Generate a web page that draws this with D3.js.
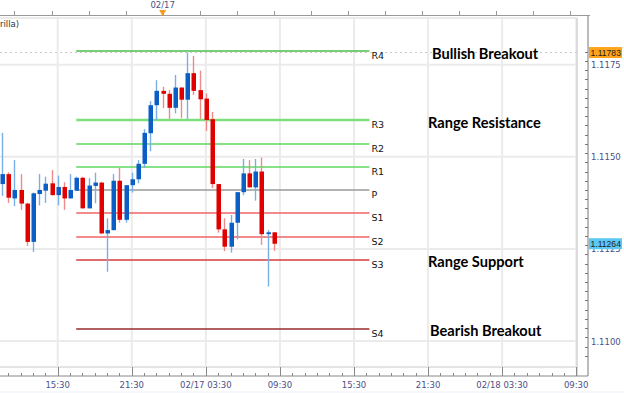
<!DOCTYPE html>
<html>
<head>
<meta charset="utf-8">
<script src="https://cdn.jsdelivr.net/npm/d3@7"></script>
<style>
  body { margin: 0; background: #fff; }
  svg { display: block; font-family: Verdana, "DejaVu Sans", sans-serif; }
</style>
</head>
<body>
<div id="chart"></div>
<script>
// EUR/USD 30 minute candles, 02/16 11:00 onwards
const firstCandle = new Date(2016, 1, 16, 11, 0);
const candleOpen = [1.11426, 1.11453, 1.11387, 1.11410, 1.11373, 1.11269, 1.11399, 1.11408, 1.11428,
  1.11396, 1.11418, 1.11387, 1.11408, 1.11443, 1.11360, 1.11421, 1.11430, 1.11292, 1.11301, 1.11435,
  1.11329, 1.11423, 1.11439, 1.11481, 1.11564, 1.11640, 1.11679, 1.11671, 1.11633, 1.11688, 1.11655,
  1.11727, 1.11681, 1.11658, 1.11602, 1.11426, 1.11303, 1.11256, 1.11321, 1.11404, 1.11455, 1.11417,
  1.11460, 1.11290, 1.11295];
const candleHigh = [1.11565, 1.11458, 1.11491, 1.11453, 1.11375, 1.11403, 1.11453, 1.11446, 1.11464,
  1.11449, 1.11431, 1.11453, 1.11446, 1.11446, 1.11442, 1.11457, 1.11432, 1.11333, 1.11453, 1.11470,
  1.11423, 1.11457, 1.11491, 1.11575, 1.11651, 1.11708, 1.11690, 1.11681, 1.11722, 1.11688, 1.11783,
  1.11774, 1.11734, 1.11672, 1.11622, 1.11426, 1.11333, 1.11342, 1.11404, 1.11494, 1.11491, 1.11494,
  1.11498, 1.11301, 1.11295];
const candleLow = [1.11394, 1.11375, 1.11366, 1.11356, 1.11258, 1.11242, 1.11368, 1.11375, 1.11395,
  1.11368, 1.11356, 1.11387, 1.11407, 1.11360, 1.11360, 1.11374, 1.11290, 1.11188, 1.11300, 1.11321,
  1.11321, 1.11403, 1.11428, 1.11470, 1.11515, 1.11600, 1.11632, 1.11603, 1.11618, 1.11605, 1.11603,
  1.11668, 1.11603, 1.11570, 1.11415, 1.11294, 1.11244, 1.11240, 1.11276, 1.11396, 1.11417, 1.11381,
  1.11261, 1.11148, 1.11245];
const candleClose = [1.11453, 1.11389, 1.11410, 1.11373, 1.11269, 1.11401, 1.11410, 1.11427, 1.11396,
  1.11418, 1.11387, 1.11410, 1.11443, 1.11360, 1.11422, 1.11430, 1.11292, 1.11301, 1.11435, 1.11329,
  1.11423, 1.11439, 1.11481, 1.11565, 1.11640, 1.11679, 1.11671, 1.11633, 1.11688, 1.11655, 1.11727,
  1.11679, 1.11656, 1.11600, 1.11426, 1.11303, 1.11256, 1.11321, 1.11404, 1.11455, 1.11417, 1.11460,
  1.11290, 1.11295, 1.11264];

// pivot levels
const levelNames = ["R4", "R3", "R2", "R1", "P", "S1", "S2", "S3", "S4"];
const levelValues = [1.11787, 1.11599, 1.11535, 1.11472, 1.11409, 1.11347, 1.11283, 1.11221, 1.11033];
const levelStart = new Date(2016, 1, 16, 17, 0);
const levelEnd = new Date(2016, 1, 17, 16, 45);

// notes next to the levels
const noteTexts = ["Bullish Breakout", "Range Resistance", "Range Support", "Bearish Breakout"];
const noteLevels = ["R4", "R3", "S3", "S4"];

// price tags on the axis
const tagValues = [1.11783, 1.11264];

const yTickValues = [1.1100, 1.1125, 1.1150, 1.1175];

const W = 624, H = 393;
const plotRight = 577, axisX = 588, plotTop = 18, plotBottom = 367, axisY = 376;

const svg = d3.select("#chart").append("svg")
    .attr("width", W)
    .attr("height", H);

const x = d3.scaleTime()
    .domain([new Date(2016, 1, 16, 15, 30), new Date(2016, 1, 18, 9, 30)])
    .range([57.7, 576.2]);

const y = d3.scaleLinear()
    .domain([1.1100, 1.1175])
    .range([341, 64.7]);

const candles = candleOpen.map((o, i) => ({
    t: d3.timeMinute.offset(firstCandle, 30 * i),
    o: o, h: candleHigh[i], l: candleLow[i], c: candleClose[i]
}));

// major time ticks at 03:30, 09:30, 15:30, 21:30
const majorTicks = d3.timeHour.range(new Date(2016, 1, 16, 15, 0), new Date(2016, 1, 18, 10, 0))
    .filter(d => d.getHours() % 6 === 3)
    .map(d => d3.timeMinute.offset(d, 30));

// grid
svg.append("g").selectAll("line")
    .data(majorTicks)
    .join("line")
    .attr("x1", d => x(d)).attr("x2", d => x(d))
    .attr("y1", plotTop).attr("y2", plotBottom)
    .attr("stroke", "#ebebeb").attr("stroke-width", 2);

svg.append("g").selectAll("line")
    .data(yTickValues)
    .join("line")
    .attr("x1", 0).attr("x2", plotRight)
    .attr("y1", d => y(d)).attr("y2", d => y(d))
    .attr("stroke", "#ebebeb").attr("stroke-width", 2);

// frame
svg.append("line").attr("x1", 0).attr("x2", plotRight).attr("y1", plotTop).attr("y2", plotTop)
    .attr("stroke", "#e4e4e4").attr("stroke-width", 1.5);
svg.append("line").attr("x1", plotRight).attr("x2", plotRight).attr("y1", plotTop).attr("y2", axisY)
    .attr("stroke", "#dcdcdc").attr("stroke-width", 2);
svg.append("line").attr("x1", 0).attr("x2", plotRight).attr("y1", plotBottom).attr("y2", plotBottom)
    .attr("stroke", "#e4e4e4").attr("stroke-width", 2);

// dotted line at the session high
svg.append("line")
    .attr("x1", 0).attr("x2", plotRight)
    .attr("y1", y(tagValues[0])).attr("y2", y(tagValues[0]))
    .attr("stroke", "#c8c8c8").attr("stroke-dasharray", "2,3");

// pivot lines
const levelColor = {R4: "#4cbb4c", R3: "#7be07b", R2: "#5fd85f", R1: "#5fd85f", P: "#9a9a9a",
    S1: "#ee6464", S2: "#ee6464", S3: "#d63c3c", S4: "#952b2b"};

svg.append("g").selectAll("line")
    .data(levelNames)
    .join("line")
    .attr("x1", x(levelStart)).attr("x2", x(levelEnd))
    .attr("y1", (d, i) => Math.round(y(levelValues[i])))
    .attr("y2", (d, i) => Math.round(y(levelValues[i])))
    .attr("stroke", d => levelColor[d])
    .attr("stroke-width", d => d === "R3" ? 2.5 : 1.6);

svg.append("g").selectAll("text")
    .data(levelNames)
    .join("text")
    .attr("x", x(levelEnd) + 2)
    .attr("y", (d, i) => y(levelValues[i]) + 8)
    .attr("font-size", 9.5)
    .attr("fill", "#111")
    .text(d => d);

// candles
const cg = svg.append("g");
cg.selectAll("line")
    .data(candles)
    .join("line")
    .attr("x1", d => Math.round(x(d.t)) + 0.5).attr("x2", d => Math.round(x(d.t)) + 0.5)
    .attr("y1", d => y(d.h)).attr("y2", d => y(d.l))
    .attr("stroke", d => d.c >= d.o ? "#7aaee6" : "#f08a8a")
    .attr("stroke-width", 1.4);

cg.selectAll("rect")
    .data(candles)
    .join("rect")
    .attr("x", d => Math.round(x(d.t)) - 1.5)
    .attr("width", 4.5)
    .attr("y", d => y(Math.max(d.o, d.c)))
    .attr("height", d => Math.max(1.5, Math.abs(y(d.o) - y(d.c))))
    .attr("fill", d => d.c >= d.o ? "#0b5fc4" : "#e00000");

// notes
const noteX = [432, 428, 428, 430];
svg.append("g").selectAll("text")
    .data(noteTexts)
    .join("text")
    .attr("x", (d, i) => noteX[i])
    .attr("y", (d, i) => y(levelValues[levelNames.indexOf(noteLevels[i])]) + 7.5)
    .attr("font-family", "Lato, 'Open Sans', sans-serif")
    .attr("font-weight", "bold")
    .attr("font-size", 14.6)
    .attr("fill", "#000")
    .text(d => d);

// right axis
svg.append("line").attr("x1", axisX).attr("x2", axisX).attr("y1", plotTop - 3).attr("y2", axisY)
    .attr("stroke", "#777");
const minorY = d3.range(0, 34).map(i => 1.1096 + i * 0.00025).filter(v => y(v) > plotTop && y(v) < plotBottom);
svg.append("g").selectAll("line")
    .data(minorY)
    .join("line")
    .attr("x1", d => {
        const r = Math.round(d * 10000 / 2.5 * 10) / 10;
        if (Math.abs(r - Math.round(r)) < 0.01) return axisX - 10;
        if (Math.abs(r * 2 - Math.round(r * 2)) < 0.01) return axisX - 5;
        return axisX - 3;
    })
    .attr("x2", axisX)
    .attr("y1", d => Math.round(y(d)) + 0.5).attr("y2", d => Math.round(y(d)) + 0.5)
    .attr("stroke", "#777");

svg.append("g").selectAll("text")
    .data(yTickValues)
    .join("text")
    .attr("x", axisX + 3)
    .attr("y", d => y(d) + 3.5)
    .attr("font-size", 8.5)
    .attr("fill", "#4a4f86")
    .text(d => d3.format(".4f")(d));

// price tags
const tagFill = ["#ffa319", "#5cc8f5"];
tagValues.forEach((v, i) => {
    svg.append("rect")
        .attr("x", axisX + 1).attr("y", y(v) - 5.5)
        .attr("width", 33).attr("height", 11)
        .attr("fill", tagFill[i]);
    svg.append("text")
        .attr("x", axisX + 2.5).attr("y", y(v) + 3.3)
        .attr("font-family", "'Liberation Sans', Arial, sans-serif")
        .attr("font-size", 8.6)
        .attr("fill", "#222")
        .text(d3.format(".5f")(v));
});

// bottom axis
svg.append("line").attr("x1", 0).attr("x2", axisX).attr("y1", axisY).attr("y2", axisY)
    .attr("stroke", "#888");
const hourTicks = d3.timeHour.range(new Date(2016, 1, 16, 10, 0), new Date(2016, 1, 18, 10, 0))
    .map(d => d3.timeMinute.offset(d, 30))
    .filter(d => x(d) >= 0 && x(d) <= plotRight + 1);
svg.append("g").selectAll("line")
    .data(hourTicks)
    .join("line")
    .attr("x1", d => Math.round(x(d)) + 0.5).attr("x2", d => Math.round(x(d)) + 0.5)
    .attr("y1", d => d.getHours() % 6 === 3 ? plotBottom : axisY - 3)
    .attr("y2", axisY)
    .attr("stroke", "#888");

const fmt = d => d.getHours() === 3 ? d3.timeFormat("%m/%d %H:%M")(d) : d3.timeFormat("%H:%M")(d);
svg.append("g").selectAll("text")
    .data(majorTicks)
    .join("text")
    .attr("x", d => x(d))
    .attr("y", 388)
    .attr("text-anchor", "middle")
    .attr("font-size", 8.5)
    .attr("fill", "#4a4f86")
    .text(fmt);

svg.append("line").attr("x1", 0).attr("x2", W).attr("y1", 392).attr("y2", 392)
    .attr("stroke", "#eef0f6");

// top axis
svg.append("line").attr("x1", 0).attr("x2", axisX + 2).attr("y1", 15.5).attr("y2", 15.5)
    .attr("stroke", "#999");
const topTicks = d3.timeHour.every(3).range(new Date(2016, 1, 16, 9, 0), new Date(2016, 1, 18, 10, 0))
    .filter(d => x(d) >= 0 && x(d) <= axisX);
svg.append("g").selectAll("line")
    .data(topTicks)
    .join("line")
    .attr("x1", d => Math.round(x(d)) + 0.5).attr("x2", d => Math.round(x(d)) + 0.5)
    .attr("y1", 11).attr("y2", 15.5)
    .attr("stroke", "#999");

const dayMark = new Date(2016, 1, 17, 0, 0);
svg.append("path")
    .attr("d", `M${x(dayMark) - 3.5},10 L${x(dayMark) + 3.5},10 L${x(dayMark)},16 Z`)
    .attr("fill", "#f59a1b");
svg.append("text")
    .attr("x", x(dayMark))
    .attr("y", 8)
    .attr("text-anchor", "middle")
    .attr("font-size", 8.5)
    .attr("fill", "#4a4f86")
    .text(d3.timeFormat("%m/%d")(dayMark));

svg.append("text")
    .attr("x", 0).attr("y", 27)
    .attr("font-size", 8.5)
    .attr("fill", "#333")
    .text("rilla)");
</script>
</body>
</html>
